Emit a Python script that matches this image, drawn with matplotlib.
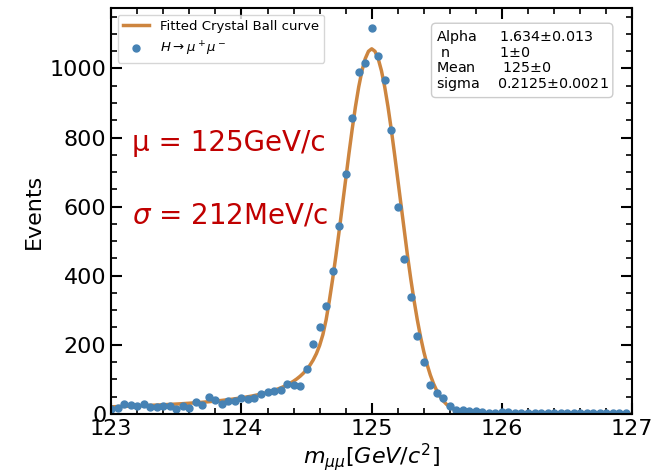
import numpy as np
import matplotlib.pyplot as plt
from matplotlib.ticker import MultipleLocator

# invariant mass bins (GeV/c^2), 0.05 spacing from 123 to 127
mass = np.round(np.arange(123.0, 127.0, 0.05), 2)
events = [15, 17, 28, 26, 24, 27, 19, 20, 24, 24,
          15, 23, 18, 34, 25, 48, 40, 27, 37, 38,
          46, 44, 45, 58, 63, 66, 69, 86, 82, 81,
          129, 203, 251, 312, 413, 545, 693, 856, 989, 1017,
          1118, 1035, 968, 821, 598, 447, 339, 226, 149, 82,
          59, 46, 22, 12, 12, 8, 7, 6, 2, 3,
          6, 4, 3, 2, 3, 2, 1, 2, 1, 2,
          1, 1, 2, 1, 1, 1, 1, 1, 1, 1]

# fit parameters (from the box)
alpha, n_cb, mean, sigma = 1.634, 1.0, 125.0, 0.2125
peak = 1057


def crystal_ball(x, a, n, mu, s, norm):
    t = (x - mu) / s
    A = (n / abs(a)) ** n * np.exp(-a ** 2 / 2)
    B = n / abs(a) - abs(a)
    out = np.where(t > -a, np.exp(-t ** 2 / 2), A / np.abs(B - t) ** n)
    return norm * out


x_fit = np.linspace(123, 127, 161)
fit_curve = crystal_ball(x_fit, alpha, n_cb, mean, sigma, peak)

fig, ax = plt.subplots(figsize=(6.62, 4.74), dpi=100)
fig.subplots_adjust(left=0.168, right=0.955, top=0.983, bottom=0.127)

ax.plot(x_fit, fit_curve, color='#cd853f', lw=2.5, label='Fitted Crystal Ball curve')
ax.plot(mass, events, 'o', color='#4682b4', ms=5, label=r'$H\rightarrow\mu^+\mu^-$')

ax.set_xlim(123, 127)
ax.set_ylim(0, 1175)
ax.xaxis.set_major_locator(MultipleLocator(1))
ax.xaxis.set_minor_locator(MultipleLocator(0.2))
ax.yaxis.set_major_locator(MultipleLocator(200))
ax.yaxis.set_minor_locator(MultipleLocator(50))
ax.tick_params(which='both', direction='in', top=True, right=True, labelsize=16)
ax.tick_params(which='major', length=8, width=1.5)
ax.tick_params(which='minor', length=4, width=1.2)
for sp in ax.spines.values():
    sp.set_linewidth(1.5)

ax.set_xlabel(r'$m_{\mu\mu}[GeV/c^2]$', fontsize=16, labelpad=2)
ax.set_ylabel('Events', fontsize=16)

ax.legend(loc='upper left', fontsize=9.5)

ax.text(123.16, 762, 'μ = 125GeV/c', color='#c00000', fontsize=20)
ax.text(123.16, 552, r'$\sigma$ = 212MeV/c', color='#c00000', fontsize=20)

stats = ('Alpha     1.634$\\pm$0.013\n'
         ' n           1$\\pm$0\n'
         'Mean      125$\\pm$0\n'
         'sigma    0.2125$\\pm$0.0021')
ax.text(0.623, 0.952, stats, transform=ax.transAxes, fontsize=10.3, va='top', ha='left',
        bbox=dict(boxstyle='round,pad=0.3', fc='white', ec='#cccccc'), linespacing=1.05)

plt.savefig('out.png')
